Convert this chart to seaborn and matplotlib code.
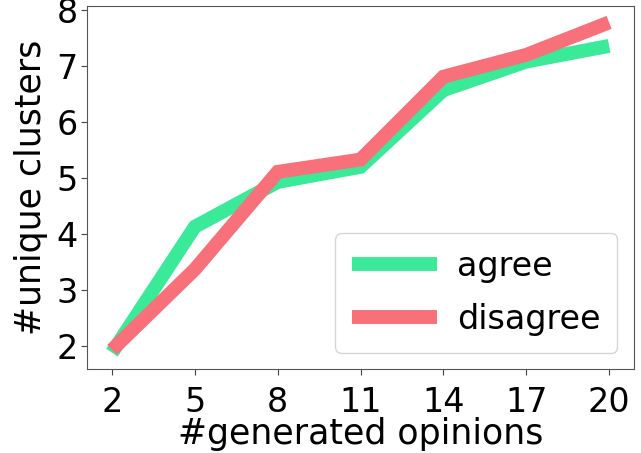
import matplotlib
matplotlib.use("Agg")
import matplotlib.pyplot as plt
import seaborn as sns
import pandas as pd

n_opinions = [2, 5, 8, 11, 14, 17, 20]
agree = [1.88, 4.13, 4.93, 5.2, 6.57, 7.08, 7.36]
disagree = [1.93, 3.37, 5.11, 5.33, 6.81, 7.2, 7.78]
series_names = ["agree", "disagree"]
colors = ["#3BEA98", "#F7707A"]

df = pd.DataFrame({
    "x": n_opinions * 2,
    "y": agree + disagree,
    "group": [series_names[0]] * len(n_opinions) + [series_names[1]] * len(n_opinions),
})

sns.set_style("ticks")
plt.rcParams["font.family"] = ["DejaVu Sans"]
plt.rcParams["text.color"] = "black"
plt.rcParams["axes.labelcolor"] = "black"
plt.rcParams["xtick.color"] = "#444444"
plt.rcParams["ytick.color"] = "#444444"
plt.rcParams["xtick.labelcolor"] = "black"
plt.rcParams["ytick.labelcolor"] = "black"

fig, ax = plt.subplots(figsize=(6.41, 4.53), dpi=100)
sns.lineplot(data=df, x="x", y="y", hue="group", palette=colors, linewidth=10,
             ax=ax, solid_capstyle="butt", solid_joinstyle="miter")

ax.set_xticks(n_opinions)
ax.set_yticks([2, 3, 4, 5, 6, 7, 8])
ax.tick_params(axis="x", labelsize=24, length=4, pad=8)
ax.tick_params(axis="y", labelsize=24, length=4, pad=3)
ax.set_xlabel("#generated opinions", fontsize=25, labelpad=-1)
ax.set_ylabel("#unique clusters", fontsize=25, labelpad=6)
for s in ax.spines.values():
    s.set_color("#555555")
leg = ax.legend(loc="lower right", fontsize=24, handlelength=2.55,
                handletextpad=0.6, labelspacing=0.6, borderpad=0.5, title=None)
for l in leg.get_lines():
    l.set_linewidth(10)
    l.set_solid_capstyle("butt")

fig.subplots_adjust(left=0.136, right=0.989, top=0.987, bottom=0.185)
fig.savefig("out.png", dpi=100)
